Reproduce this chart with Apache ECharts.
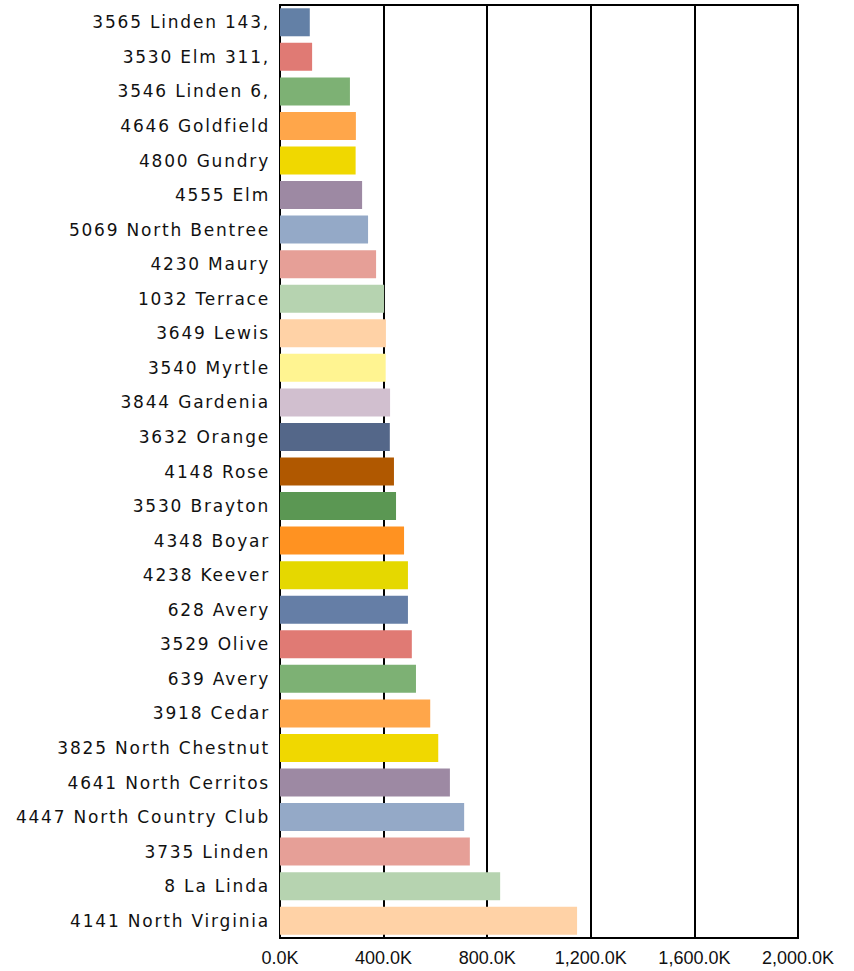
<!DOCTYPE html>
<html>
<head>
<meta charset="utf-8">
<script src="https://cdn.jsdelivr.net/npm/echarts@6/dist/echarts.min.js"></script>
<style>
  html, body { margin: 0; padding: 0; background: #fff; }
  #chart { width: 854px; height: 971px; }
  /* spaced-out category labels */
  #chart text[style*="DejaVu"] { letter-spacing: 1.8px; }
</style>
</head>
<body>
<div id="chart"></div>
<script>
// category labels, top to bottom
const streets = [
  '3565 Linden 143,', '3530 Elm 311,', '3546 Linden 6,', '4646 Goldfield', '4800 Gundry',
  '4555 Elm', '5069 North Bentree', '4230 Maury', '1032 Terrace', '3649 Lewis',
  '3540 Myrtle', '3844 Gardenia', '3632 Orange', '4148 Rose', '3530 Brayton',
  '4348 Boyar', '4238 Keever', '628 Avery', '3529 Olive', '639 Avery',
  '3918 Cedar', '3825 North Chestnut', '4641 North Cerritos', '4447 North Country Club',
  '3735 Linden', '8 La Linda', '4141 North Virginia'
]

const amounts = [
  115000, 124000, 270000, 293000, 292000,
  317000, 340000, 371000, 402000, 409000,
  408000, 425000, 424000, 440000, 448000,
  479000, 494000, 494000, 509000, 525000,
  580000, 611000, 656000, 711000, 733000,
  850000, 1147000
]

const barColors = [
  '#6380a6', '#e07a74', '#7db174', '#ffa64a', '#f0d800',
  '#9d89a3', '#94a9c7', '#e69f97', '#b6d3b0', '#ffd2a6',
  '#fff491', '#d1bfcf', '#546789', '#b05800', '#5b9753',
  '#ff9221', '#e5d800', '#657ea6', '#e07a74', '#7db174',
  '#ffa64a', '#f0d800', '#9d89a3', '#94a9c7', '#e69f97',
  '#b6d3b0', '#ffd2a6'
]

const xMin = 0
const xMax = 2000000
const xStep = 400000

const chart = echarts.init(document.getElementById('chart'), null, { renderer: 'svg' })

const fmtK = v => (v / 1000).toLocaleString('en-US', { minimumFractionDigits: 1, maximumFractionDigits: 1 }) + 'K'

chart.setOption({
  animation: false,
  grid: {
    left: 280, right: 56, top: 5, bottom: 33,
    show: true, borderColor: '#000', borderWidth: 2
  },
  xAxis: {
    type: 'value',
    min: xMin, max: xMax, interval: xStep,
    axisLine: { show: true, lineStyle: { color: '#000', width: 2 } },
    axisTick: { show: false },
    splitLine: { show: true, lineStyle: { color: '#000', width: 2 } },
    axisLabel: {
      formatter: fmtK,
      color: '#111',
      fontFamily: 'Liberation Sans',
      fontSize: 18,
      margin: 11
    }
  },
  yAxis: {
    type: 'category',
    inverse: true,
    data: streets,
    axisLine: { show: true, lineStyle: { color: '#000', width: 2 } },
    axisTick: { show: false },
    axisLabel: {
      color: '#111',
      fontFamily: 'DejaVu Sans',
      fontSize: 17,
      margin: 10
    }
  },
  series: [{
    type: 'bar',
    barWidth: 28,
    data: amounts.map((v, i) => ({ value: v, itemStyle: { color: barColors[i] } }))
  }]
})
</script>
</body>
</html>
